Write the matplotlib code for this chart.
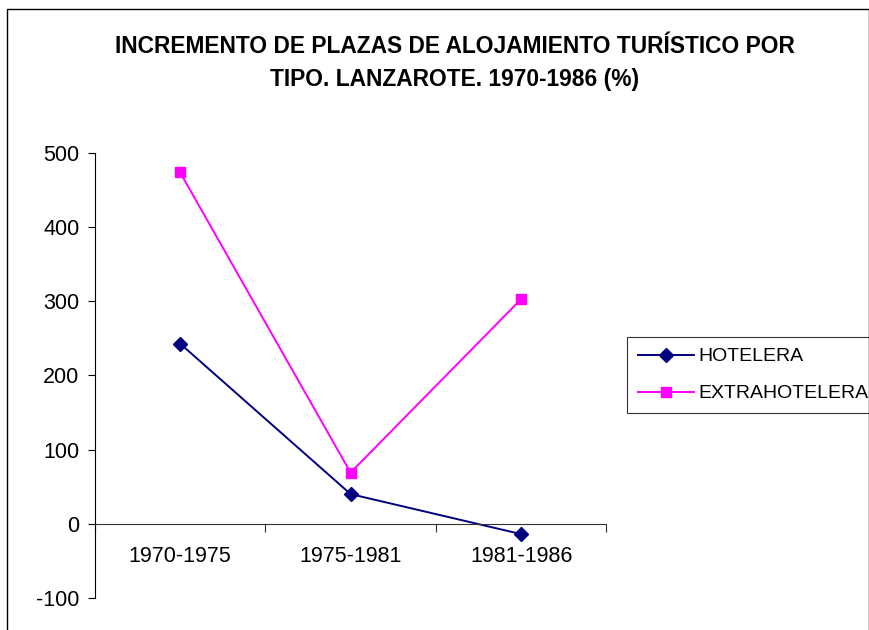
import matplotlib.pyplot as plt
from matplotlib.patches import Rectangle
from matplotlib.ticker import FixedLocator, NullFormatter

periodos = ["1970-1975", "1975-1981", "1981-1986"]
hotelera = [243, 40, -14]
extrahotelera = [474, 69, 303]

plt.rcParams['font.family'] = ['Liberation Sans', 'DejaVu Sans']
plt.rcParams['axes.unicode_minus'] = False

fig = plt.figure(figsize=(8.7, 6.3), dpi=100)
ax = fig.add_axes([0.109, 0.051, 0.588, 0.706])

x = range(len(periodos))
ax.plot(x, hotelera, color='#000080', marker='D', markersize=7.5, lw=1.4, label='HOTELERA')
ax.plot(x, extrahotelera, color='#FF00FF', marker='s', markersize=7.5, lw=1.4, label='EXTRAHOTELERA')

ax.set_xlim(-0.5, 2.5)
ax.set_ylim(-100, 500)
ax.set_yticks([-100, 0, 100, 200, 300, 400, 500])
ax.tick_params(axis='y', direction='out', length=5, labelsize=15.5, pad=6)

ax.spines['top'].set_visible(False)
ax.spines['right'].set_visible(False)
ax.spines['bottom'].set_position(('data', 0))
ax.spines['bottom'].set_color('#333333')
ax.spines['left'].set_color('#000000')

ax.xaxis.set_major_locator(FixedLocator([-0.5, 0.5, 1.5, 2.5]))
ax.xaxis.set_major_formatter(NullFormatter())
ax.xaxis.set_minor_locator(FixedLocator(list(x)))
ax.set_xticklabels(periodos, minor=True)
ax.tick_params(axis='x', which='major', direction='out', length=6, color='#333333')
ax.tick_params(axis='x', which='minor', length=0, labelsize=15.5, pad=16)

fig.text(0.523, 0.9, "INCREMENTO DE PLAZAS DE ALOJAMIENTO TURÍSTICO POR\nTIPO. LANZAROTE. 1970-1986 (%)",
         ha='center', va='center', fontsize=16.4, fontweight='bold', linespacing=1.6)

leg = ax.legend(loc='center left', bbox_to_anchor=(1.041, 0.501), frameon=True, fancybox=False,
                edgecolor='#000000', handlelength=2.9, borderpad=0.55,
                labelspacing=1.0, handletextpad=0.2, borderaxespad=0,
                prop={'size': 14})
leg.get_frame().set_linewidth(0.8)

fig.patches.append(Rectangle((7 / 870, -0.05), 862 / 870, 1 - 9 / 630 + 0.05,
                             transform=fig.transFigure, fill=False, edgecolor='#000000', lw=1))

fig.savefig('out.png', dpi=100)
